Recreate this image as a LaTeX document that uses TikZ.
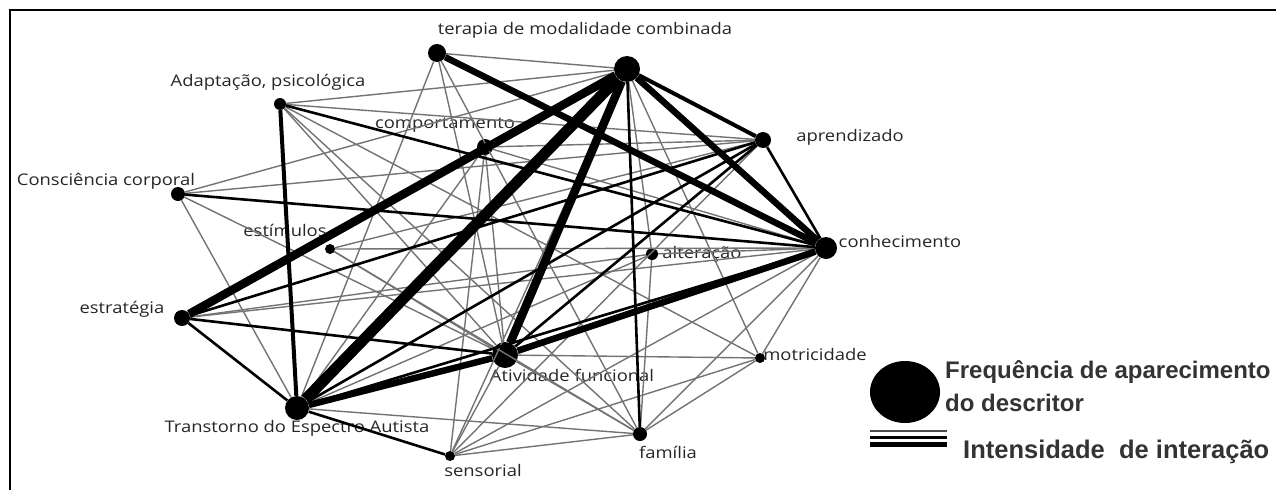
\documentclass[tikz,border=0pt]{standalone}
\usepackage{fontspec}
\setmainfont{Open Sans}
\newfontfamily\lblfont[FakeStretch=1.15]{Open Sans}
\newfontfamily\legfont{Liberation Sans}
\usetikzlibrary{shapes.geometric}

\begin{document}
\begin{tikzpicture}[x=1pt,y=-1pt,
    dot/.style={circle, fill=black, inner sep=0pt},
    lbl/.style={inner sep=0pt, text=black!85, font=\lblfont\fontsize{16}{18}\selectfont},
    leg/.style={inner sep=0pt, anchor=base west, text=black!80, font=\legfont\bfseries\fontsize{24}{28}\selectfont},
    e1/.style={draw=black!55, line width=1.4pt},
    e2/.style={draw=black, line width=2.6pt},
    e3/.style={draw=black, line width=4pt},
    e4/.style={draw=black, line width=6.5pt},
    e5/.style={draw=black, line width=8.5pt},
    e6/.style={draw=black, line width=11pt}
]
\useasboundingbox (0,0) rectangle (1276,490);

% frame
\draw[line width=2.2pt] (10,490) -- (10,10) -- (1276,10);

% descritores
\node[dot, minimum size=18pt] (tmc)   at (437,53)  {};
\node[dot, minimum size=26pt] (hub)   at (627,69)  {};
\node[dot, minimum size=12pt] (adap)  at (280,104) {};
\node[dot, minimum size=16pt] (comp)  at (485,147) {};
\node[dot, minimum size=16pt] (apren) at (763,140) {};
\node[dot, minimum size=14pt] (consc) at (178,194) {};
\node[dot, minimum size=10pt] (estim) at (330,249) {};
\node[dot, minimum size=12pt] (alter) at (652,254) {};
\node[dot, minimum size=22pt] (conh)  at (826,248) {};
\node[dot, minimum size=16pt] (estr)  at (182,318) {};
\node[dot, minimum size=26pt] (ativ)  at (505,355) {};
\node[dot, minimum size=10pt] (motr)  at (760,358) {};
\node[dot, minimum size=24pt] (tea)   at (297,408) {};
\node[dot, minimum size=10pt] (sens)  at (450,456) {};
\node[dot, minimum size=14pt] (fam)   at (640,434) {};

% labels
\node[lbl] (lTmc)   at (585,30)  {terapia de modalidade combinada};
\node[lbl] (lAdap)  at (268,82)  {Adaptação, psicológica};
\node[lbl] (lComp)  at (445,125) {comportamento};
\node[lbl] (lApren) at (850,137) {aprendizado};
\node[lbl] (lConsc) at (106,181) {Consciência corporal};
\node[lbl] (lEstim) at (285,230) {estímulos};
\node[lbl] (lAlter) at (702,254) {alteração};
\node[lbl] (lConh)  at (900,241) {conhecimento};
\node[lbl] (lEstr)  at (122,309) {estratégia};
\node[lbl] (lAtiv)  at (572,375) {Atividade funcional};
\node[lbl] (lMotr)  at (815,354) {motricidade};
\node[lbl] (lTea)   at (297,428) {Transtorno do Espectro Autista};
\node[lbl] (lSens)  at (483,470) {sensorial};
\node[lbl] (lFam)   at (668,452) {família};

% weak links
\foreach \a/\b in {tmc/hub,tmc/tea,tmc/ativ,tmc/fam,consc/hub,consc/apren,consc/ativ,consc/tea,
    adap/hub,adap/apren,adap/ativ,adap/fam,adap/motr,comp/apren,comp/ativ,comp/tea,comp/sens,
    comp/conh,estr/conh,estr/alter,estim/ativ,estim/fam,estim/apren,estim/conh,alter/fam,
    alter/conh,alter/tea,ativ/motr,ativ/fam,ativ/sens,tea/fam,sens/fam,sens/conh,sens/motr,
    sens/hub,fam/motr,fam/conh,hub/motr,hub/alter,hub/comp,apren/sens,conh/motr} {
  \draw[e1] (\a) -- (\b);
}

% medium links
\foreach \a/\b in {adap/conh,estr/tea,estr/ativ,estr/apren,consc/conh,apren/conh,apren/tea,
    conh/tea,apren/ativ,tea/sens,hub/fam} {
  \draw[e2] (\a) -- (\b);
}
\draw[e3] (hub) -- (apren);
\draw[e3] (adap) -- (tea);

% strong links
\foreach \a/\b in {tmc/conh,hub/conh,ativ/conh,tea/ativ} {
  \draw[e4] (\a) -- (\b);
}
\draw[e5] (hub) -- (ativ);
\draw[e5] (hub) -- (estr);
\draw[e6] (hub) -- (tea);

% legend
\node[ellipse, fill=black, minimum width=70pt, minimum height=62pt, inner sep=0pt] (legDot) at (905,392) {};
\node[leg] (legFreq) at (945,378) {Frequência de aparecimento};
\node[leg] (legDesc) at (945,411) {do descritor};
\node[leg, font=\legfont\bfseries\fontsize{25.5}{28}\selectfont] (legInt) at (963,458) {Intensidade\ \ de interação};
\coordinate (barA) at (870,431);
\coordinate (barB) at (870,437);
\coordinate (barC) at (870,444);
\draw[draw=black!70, line width=2pt] (barA) -- ++(77,0);
\draw[line width=3pt] (barB) -- ++(77,0);
\draw[line width=5pt] (barC) -- ++(77,0);
\end{tikzpicture}
\end{document}
